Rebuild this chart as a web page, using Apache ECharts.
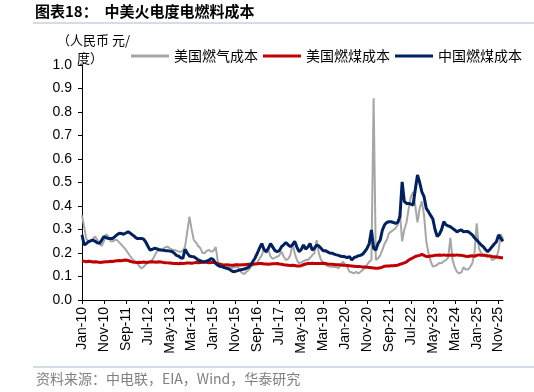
<!DOCTYPE html>
<html>
<head>
<meta charset="utf-8">
<script src="https://cdn.jsdelivr.net/npm/echarts@6/dist/echarts.min.js"></script>
<style>
  html, body { margin: 0; padding: 0; background: #fff; }
  #main { width: 534px; height: 392px; }
</style>
</head>
<body>
<div id="main"></div>
<script>
// 月份标签 Jan-10 ~ Jan-26
const monthNames = ['Jan', 'Feb', 'Mar', 'Apr', 'May', 'Jun', 'Jul', 'Aug', 'Sep', 'Oct', 'Nov', 'Dec'];
const startYear = 10;
const monthCount = 193;
const yTicks = [0, 0.1, 0.2, 0.3, 0.4, 0.5, 0.6, 0.7, 0.8, 0.9, 1.0];

// 美国燃气成本（元/度）
const usGas = [
  0.36, 0.31, 0.26, 0.25, 0.25, 0.26, 0.27, 0.255, 0.24, 0.23, 0.25, 0.28,
  0.27, 0.25, 0.25, 0.255, 0.255, 0.245, 0.235, 0.225, 0.213, 0.2, 0.186, 0.175,
  0.165, 0.16, 0.145, 0.135, 0.14, 0.15, 0.158, 0.165, 0.17, 0.185, 0.205, 0.21,
  0.213, 0.218, 0.225, 0.227, 0.22, 0.215, 0.213, 0.21, 0.207, 0.205, 0.21, 0.227,
  0.29, 0.355, 0.3, 0.255, 0.245, 0.23, 0.22, 0.2, 0.2, 0.21, 0.213, 0.205,
  0.21, 0.225, 0.16, 0.15, 0.138, 0.135, 0.135, 0.137, 0.135, 0.138, 0.14, 0.142,
  0.125, 0.115, 0.11, 0.12, 0.128, 0.14, 0.15, 0.155, 0.16, 0.177, 0.19, 0.22,
  0.2, 0.213, 0.185, 0.175, 0.18, 0.184, 0.19, 0.206, 0.185, 0.17, 0.175, 0.19,
  0.24, 0.2, 0.17, 0.156, 0.16, 0.165, 0.17, 0.17, 0.18, 0.19, 0.2, 0.255,
  0.2, 0.17, 0.16, 0.15, 0.145, 0.142, 0.142, 0.14, 0.14, 0.135, 0.15, 0.163,
  0.15, 0.14, 0.12, 0.118, 0.113, 0.12, 0.113, 0.12, 0.128, 0.135, 0.15, 0.163,
  0.17, 0.858, 0.17, 0.177, 0.19, 0.213, 0.24, 0.255, 0.284, 0.291, 0.298, 0.305,
  0.32, 0.37, 0.25, 0.3, 0.33, 0.39, 0.44, 0.46, 0.4, 0.33, 0.39, 0.42,
  0.36, 0.25, 0.2, 0.165, 0.142, 0.145, 0.15, 0.158, 0.156, 0.165, 0.17, 0.18,
  0.265, 0.17, 0.14, 0.12, 0.113, 0.118, 0.14, 0.13, 0.13, 0.14, 0.156, 0.2,
  0.326, 0.22, 0.2, 0.19, 0.185, 0.184, 0.19, 0.17, 0.175, 0.18, 0.213, 0.28,
  0.26
];

// 美国燃煤成本
const usCoal = [
  0.166, 0.165, 0.163, 0.165, 0.164, 0.162, 0.163, 0.162, 0.16, 0.161, 0.162, 0.163,
  0.163, 0.165, 0.164, 0.166, 0.167, 0.168, 0.167, 0.169, 0.17, 0.168, 0.165, 0.162,
  0.161, 0.16, 0.161, 0.16, 0.162, 0.16, 0.161, 0.162, 0.163, 0.162, 0.161, 0.163,
  0.162, 0.16, 0.159, 0.158, 0.157, 0.156, 0.155, 0.155, 0.154, 0.156, 0.155, 0.156,
  0.158, 0.157, 0.156, 0.158, 0.16, 0.159, 0.16, 0.161, 0.162, 0.16, 0.159, 0.16,
  0.16, 0.158, 0.154, 0.152, 0.15, 0.149, 0.15, 0.149, 0.148, 0.148, 0.15, 0.15,
  0.149, 0.15, 0.15, 0.151, 0.152, 0.152, 0.152, 0.153, 0.154, 0.155, 0.155, 0.153,
  0.153, 0.152, 0.153, 0.154, 0.154, 0.155, 0.153, 0.152, 0.15, 0.149, 0.148, 0.147,
  0.148, 0.147, 0.145, 0.145, 0.146, 0.15, 0.153, 0.155, 0.155, 0.156, 0.155, 0.155,
  0.155, 0.155, 0.156, 0.155, 0.153, 0.152, 0.152, 0.151, 0.15, 0.15, 0.149, 0.148,
  0.148, 0.147, 0.146, 0.145, 0.144, 0.143, 0.143, 0.142, 0.14, 0.14, 0.139, 0.138,
  0.137, 0.136, 0.135, 0.135, 0.137, 0.14, 0.144, 0.145, 0.145, 0.146, 0.146, 0.147,
  0.148, 0.152, 0.155, 0.158, 0.162, 0.17, 0.175, 0.18, 0.185, 0.188, 0.19, 0.194,
  0.19, 0.185, 0.185, 0.187, 0.188, 0.19, 0.19, 0.191, 0.19, 0.192, 0.19, 0.19,
  0.19, 0.191, 0.19, 0.192, 0.19, 0.19, 0.188, 0.186, 0.185, 0.187, 0.188, 0.186,
  0.19, 0.192, 0.19, 0.19, 0.19, 0.188, 0.187, 0.185, 0.184, 0.183, 0.182, 0.18,
  0.18
];

// 中国燃煤成本
const cnCoal = [
  0.277, 0.234, 0.24, 0.248, 0.252, 0.255, 0.25, 0.243, 0.241, 0.255, 0.27, 0.265,
  0.262, 0.262, 0.262, 0.27, 0.278, 0.284, 0.283, 0.28, 0.285, 0.29, 0.285, 0.277,
  0.27, 0.262, 0.262, 0.262, 0.26, 0.248, 0.23, 0.213, 0.215, 0.22, 0.218, 0.215,
  0.213, 0.212, 0.21, 0.21, 0.208, 0.206, 0.2, 0.19, 0.187, 0.18, 0.177, 0.216,
  0.2, 0.187, 0.185, 0.184, 0.178, 0.17, 0.167, 0.163, 0.163, 0.166, 0.17, 0.177,
  0.17, 0.155, 0.147, 0.143, 0.142, 0.138, 0.135, 0.132, 0.126, 0.12, 0.122, 0.125,
  0.128, 0.13, 0.132, 0.135, 0.14, 0.15, 0.165, 0.18, 0.2, 0.222, 0.24, 0.215,
  0.206, 0.22, 0.24, 0.225, 0.21, 0.206, 0.21, 0.227, 0.235, 0.245, 0.235, 0.227,
  0.235, 0.25, 0.225, 0.206, 0.215, 0.234, 0.217, 0.225, 0.24, 0.213, 0.22, 0.234,
  0.23, 0.22, 0.21, 0.21, 0.205, 0.2, 0.199, 0.195, 0.192, 0.19, 0.186, 0.185,
  0.184, 0.18, 0.185, 0.17, 0.18, 0.184, 0.188, 0.19, 0.195, 0.206, 0.22, 0.24,
  0.298, 0.22, 0.213, 0.24, 0.255, 0.298, 0.32, 0.33, 0.333, 0.333, 0.33, 0.326,
  0.33, 0.355, 0.503, 0.42, 0.411, 0.411, 0.408, 0.404, 0.47, 0.532, 0.5, 0.46,
  0.44, 0.39, 0.376, 0.36, 0.345, 0.3, 0.27, 0.28, 0.3, 0.333, 0.32, 0.315,
  0.312, 0.305, 0.298, 0.29, 0.295, 0.298, 0.29, 0.291, 0.291, 0.285, 0.277, 0.265,
  0.255, 0.245, 0.235, 0.227, 0.215, 0.206, 0.215, 0.227, 0.238, 0.248, 0.277, 0.262,
  0.25
];

const seriesNames = ['美国燃气成本', '美国燃煤成本', '中国燃煤成本'];
const seriesColors = ['#a6a6a6', '#c00000', '#002060'];

// 生成x轴月份
let months = [];
for (let i = 0; i < monthCount; i++) {
  let yy = startYear + Math.floor(i / 12);
  months.push(monthNames[i % 12] + '-' + yy);
}

const chart = echarts.init(document.getElementById('main'), null, { renderer: 'canvas' });
const fontCn = '"Noto Sans CJK SC", "Noto Sans", sans-serif';
const fontEn = '"Liberation Sans", Arial, sans-serif';

const option = {
  animation: false,
  backgroundColor: '#fff',
  // 标题、单位、来源
  graphic: [
    {
      type: 'text', left: 35, top: 4,
      style: { text: '图表18：  中美火电度电燃料成本', font: 'bold 15px ' + fontCn, fill: '#000' }
    },
    {
      type: 'line', shape: { x1: 33, y1: 23, x2: 534, y2: 23 },
      style: { stroke: '#a9bccf', lineWidth: 1 }
    },
    {
      type: 'text', left: 57, top: 34,
      style: { text: '（人民币 元/', font: '13px ' + fontCn, fill: '#000' }
    },
    {
      type: 'text', left: 77, top: 52,
      style: { text: '度）', font: '13px ' + fontCn, fill: '#000' }
    },
    {
      type: 'line', shape: { x1: 33, y1: 367, x2: 534, y2: 367 },
      style: { stroke: '#a9bccf', lineWidth: 1 }
    },
    {
      type: 'text', left: 36, top: 372,
      style: { text: '资料来源：中电联，EIA，Wind，华泰研究', font: '14px ' + fontCn, fill: '#808080' }
    }
  ],
  legend: {
    left: 126,
    top: 44,
    itemWidth: 38,
    itemHeight: 3,
    itemGap: 5,
    icon: 'rect',
    data: seriesNames,
    textStyle: { fontFamily: fontCn, fontSize: 14, color: '#000' }
  },
  grid: {
    left: 82,
    right: 31,
    top: 65,
    bottom: 92
  },
  xAxis: {
    type: 'category',
    data: months,
    boundaryGap: false,
    axisLine: { lineStyle: { color: '#000', width: 1 } },
    axisTick: { show: true, interval: 9, length: 4, lineStyle: { color: '#000' } },
    axisLabel: {
      interval: 9,
      rotate: 90,
      margin: 7,
      color: '#000',
      fontFamily: fontEn,
      fontSize: 14
    },
    splitLine: { show: false }
  },
  yAxis: {
    type: 'value',
    min: yTicks[0],
    max: yTicks[yTicks.length - 1],
    interval: 0.1,
    axisLine: { show: true, lineStyle: { color: '#000', width: 1 } },
    axisTick: { show: true, length: 4, lineStyle: { color: '#000' } },
    axisLabel: {
      margin: 10,
      color: '#000',
      fontFamily: fontEn,
      fontSize: 14,
      formatter: (v) => v.toFixed(1)
    },
    splitLine: { show: false }
  },
  series: [
    {
      name: seriesNames[0],
      type: 'line',
      data: usGas,
      showSymbol: false,
      color: seriesColors[0],
      lineStyle: { width: 2, color: seriesColors[0] },
      z: 2
    },
    {
      name: seriesNames[1],
      type: 'line',
      data: usCoal,
      showSymbol: false,
      color: seriesColors[1],
      lineStyle: { width: 3, color: seriesColors[1] },
      z: 3
    },
    {
      name: seriesNames[2],
      type: 'line',
      data: cnCoal,
      showSymbol: false,
      color: seriesColors[2],
      lineStyle: { width: 3, color: seriesColors[2] },
      z: 4
    }
  ]
};

chart.setOption(option);
</script>
</body>
</html>
